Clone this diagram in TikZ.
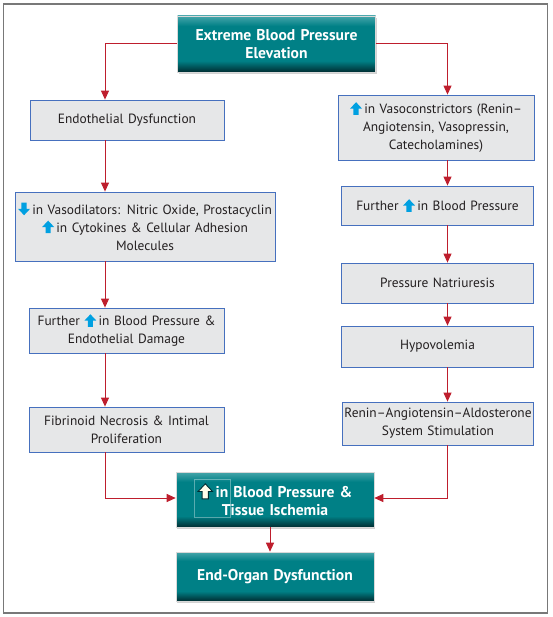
\documentclass[tikz,border=0pt]{standalone}
\usepackage{fontspec}
\setmainfont{PT Sans}[WordSpace=0.8]
\usetikzlibrary{arrows.meta,shadows}

\definecolor{boxfill}{RGB}{230,231,232}
\definecolor{boxline}{RGB}{70,112,190}
\definecolor{linkred}{RGB}{190,30,45}
\definecolor{txt}{RGB}{35,31,32}
\definecolor{iconblue}{RGB}{0,160,225}
\definecolor{tealmain}{RGB}{0,128,134}
\definecolor{teallight}{RGB}{70,165,170}
\definecolor{tealdark}{RGB}{0,45,50}
\definecolor{framegray}{RGB}{120,120,120}

\pgfdeclareverticalshading{tealbox}{100bp}{color(0bp)=(tealdark); color(25bp)=(tealdark);
  color(35bp)=(tealmain); color(66bp)=(tealmain); color(75bp)=(teallight); color(100bp)=(teallight)}

% small arrow icons used inside the box texts
\newcommand{\upicon}[1][fill=iconblue]{\tikz[baseline=1pt,x=1pt,y=1pt]\path[#1]
  (-2.6,0) -- (-2.6,6.2) -- (-6,6.2) -- (0,12.6) -- (6,6.2) -- (2.6,6.2) -- (2.6,0) -- cycle;}
\newcommand{\downicon}{\tikz[baseline=1pt,x=1pt,y=1pt]\fill[iconblue]
  (-2.6,12.6) -- (-2.6,6.4) -- (-6,6.4) -- (0,0) -- (6,6.4) -- (2.6,6.4) -- (2.6,12.6) -- cycle;}

\begin{document}
\begin{tikzpicture}[x=1pt,y=-1pt,
    every node/.style={font=\fontsize{13.4}{18}\selectfont, text=txt},
    grey/.style={draw=boxline, line width=0.8pt, fill=boxfill, align=center, inner sep=0pt},
    head/.style={shading=tealbox, draw=black!15, line width=0.6pt, text=white, align=center,
      inner sep=0pt, minimum width=198pt, text width=194pt,
      font=\fontsize{15.6}{17.5}\selectfont\bfseries,
      drop shadow={shadow xshift=1.2pt, shadow yshift=-1.8pt, fill=black!35}},
    link/.style={draw=linkred, line width=1pt, -{Triangle[width=8pt,length=9pt]}}]
  \useasboundingbox (0,0) rectangle (552,617);
  \draw[framegray, line width=1.3pt] (3.5,4) rectangle (547.5,613);

  % top
  \node[head, minimum height=56pt] (bpe) at (276.5,44) {Extreme Blood Pressure\\Elevation};

  % left column
  \node[grey, minimum width=194pt, minimum height=40pt, text width=190pt] (endo) at (127,120)
    {Endothelial Dysfunction};
  \node[grey, minimum width=260pt, minimum height=69pt, text width=258pt] (vdil) at (145,226.5)
    {\downicon\,in Vasodilators: Nitric Oxide, Prostacyclin\\
     \upicon\,in Cytokines \& Cellular Adhesion\\Molecules};
  \node[grey, minimum width=195pt, minimum height=45pt, text width=193pt] (furl) at (126.5,330.5)
    {Further \upicon\,in Blood Pressure \&\\Endothelial Damage};
  \node[grey, minimum width=195pt, minimum height=45pt, text width=193pt] (fib) at (126.5,429.5)
    {Fibrinoid Necrosis \& Intimal\\Proliferation};

  % right column
  \node[grey, minimum width=196pt, minimum height=65pt, text width=192pt] (vcon) at (436,127.5)
    {\upicon\,in Vasoconstrictors (Renin–\\Angiotensin, Vasopressin,\\Catecholamines)};
  \node[grey, minimum width=192pt, minimum height=39pt, text width=188pt] (furr) at (437.5,205.5)
    {Further \upicon\,in Blood Pressure};
  \node[grey, minimum width=192pt, minimum height=40pt, text width=188pt] (natr) at (437.5,283)
    {Pressure Natriuresis};
  \node[grey, minimum width=192pt, minimum height=41pt, text width=188pt] (hypo) at (437.5,346.5)
    {Hypovolemia};
  \node[grey, minimum width=191pt, minimum height=43pt, text width=191pt] (raas) at (438,423.5)
    {Renin–Angiotensin–Aldosterone\\System Stimulation};

  % bottom
  \node[head, minimum height=55pt] (isch) at (275,499.5)
    {\upicon[fill=white!92!yellow, draw=tealdark, line width=0.9pt, scale=1.2]\,in Blood Pressure \&\\Tissue Ischemia};
  \draw[white, opacity=0.35, line width=0.5pt] (194,479) rectangle (230,517);
  \node[head, minimum height=49pt] (eod) at (275,576.5) {End-Organ Dysfunction};

  % connectors
  \coordinate (lx) at (105,0);
  \coordinate (rx) at (447.5,0);
  \draw[link] (bpe.west) -| (endo.north -| lx);
  \draw[link] (bpe.east) -| (vcon.north -| rx);
  \draw[link] (endo.south -| lx) -- (vdil.north -| lx);
  \draw[link] (vdil.south -| lx) -- (furl.north -| lx);
  \draw[link] (furl.south -| lx) -- (fib.north -| lx);
  \draw[link] (fib.south -| lx) |- ([yshift=1.5pt]isch.west);
  \draw[link] (vcon.south -| rx) -- (furr.north -| rx);
  \draw[link] (furr.south -| rx) -- (natr.north -| rx);
  \draw[link] (natr.south -| rx) -- (hypo.north -| rx);
  \draw[link] (hypo.south -| rx) -- (raas.north -| rx);
  \draw[link] (raas.south -| rx) |- ([yshift=1.5pt]isch.east);
  \draw[link] ([xshift=-5pt]isch.south) -- ([xshift=-5pt]eod.north);
\end{tikzpicture}
\end{document}
